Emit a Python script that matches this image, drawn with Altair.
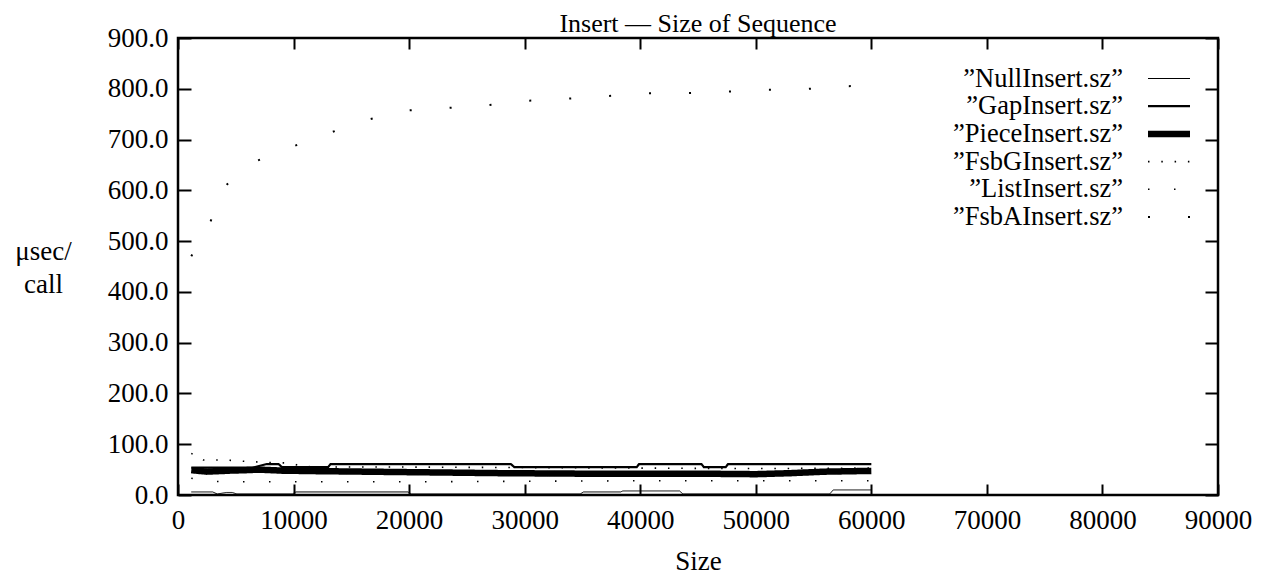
import altair as alt
import pandas as pd

# ---- data ----
series_names = ["”NullInsert.sz”", "”GapInsert.sz”", "”PieceInsert.sz”",
                "”FsbGInsert.sz”", "”ListInsert.sz”", "”FsbAInsert.sz”"]

null_size = [1150, 3000, 3400, 4200, 4700, 5100, 9900, 10200, 19900, 20200, 34800, 35100,
             38300, 38500, 43400, 43700, 56400, 56700, 60000]
null_val = [6, 6, 2, 5, 5, 2, 2, 6, 6, 2, 2, 6, 6, 8, 8, 2, 2, 10, 10]

gap_size = [1150, 6500, 7700, 8700, 9000, 13000, 13200, 28800, 29100, 39700, 39900,
            45300, 45500, 47400, 47600, 60000]
gap_val = [54, 54, 61, 61, 55, 55, 61, 61, 55, 55, 61, 61, 55, 55, 61, 61]

piece_size = [1150, 2500, 4500, 6000, 7000, 9000, 12000, 20000, 28000, 35000, 45000,
              50000, 53000, 56000, 60000]
piece_val = [49, 46, 48, 49, 50, 48, 47, 45, 43, 42, 42, 41, 43, 46, 47.5]

fsbg_size = [1150, 2200, 4000, 6000, 8000, 9500, 11000, 13000, 20000, 30000, 40000, 50000, 60000]
fsbg_val = [82, 69, 69, 66, 64, 63, 56, 55, 55, 54, 53, 52, 53]

list_size = [1150, 2500, 5000, 10000, 20000, 30000, 40000, 50000, 55000, 60000]
list_val = [33, 27, 26, 26, 26, 27, 28, 28, 28, 28]

fsba_size = [1150, 2800, 4150, 6700, 9900, 13100, 16400, 19600, 23100, 26500, 29900,
             33400, 36800, 40300, 43700, 47100, 50600, 54100, 57500, 60000]
fsba_val = [470, 538, 610, 657, 686, 713, 739, 757, 762, 767, 776, 780, 785, 791, 791,
            794, 798, 799, 805, 806]

x_ticks = [0, 10000, 20000, 30000, 40000, 50000, 60000, 70000, 80000, 90000]
y_ticks = [0, 100, 200, 300, 400, 500, 600, 700, 800, 900]

# line styles (gnuplot-like): solid thin / medium / thick, then three dotted patterns
widths = [1, 2.2, 6.5, 1.6, 1.6, 2]
dashes = [[1, 0], [1, 0], [1, 0], [1.5, 11.8], [1.5, 24.5], [2, 38]]

all_sizes = [null_size, gap_size, piece_size, fsbg_size, list_size, fsba_size]
all_vals = [null_val, gap_val, piece_val, fsbg_val, list_val, fsba_val]

W, H = 1040, 457
FONT = "Liberation Serif"

xscale = alt.Scale(domain=[0, 90000], nice=False, zero=False)
yscale = alt.Scale(domain=[0, 900], nice=False, zero=False)

main_x_axis = alt.Axis(orient="bottom", values=x_ticks, format="d", ticks=False, tickSize=0,
                       domain=False, grid=False, labelPadding=12, labelFlush=False,
                       title="Size", titlePadding=15)
main_y_axis = alt.Axis(orient="left", values=y_ticks, format=".1f", ticks=False, tickSize=0,
                       domain=False, grid=False, labelPadding=10, labelFlush=False,
                       title=["μsec/", "call"], titleAngle=0, titleAlign="center",
                       titleBaseline="middle", titleX=-135, titleY=213, titleLineHeight=33)

layers = []
for i, name in enumerate(series_names):
    d = pd.DataFrame({"series": name, "size": all_sizes[i], "value": all_vals[i],
                      "order": list(range(len(all_sizes[i])))})
    layers.append(
        alt.Chart(d).mark_line(color="black", strokeWidth=widths[i], strokeDash=dashes[i],
                               strokeCap="butt", strokeJoin="miter").encode(
            x=alt.X("size:Q", scale=xscale, axis=main_x_axis if i == 0 else None),
            y=alt.Y("value:Q", scale=yscale, axis=main_y_axis if i == 0 else None),
            order="order:Q",
        )
    )

# mirrored, inward ticks on all four sides (gnuplot style)
tickdf = pd.DataFrame({"size": x_ticks, "value": y_ticks})
ticks_a = alt.Chart(tickdf).mark_point(opacity=0).encode(
    x=alt.X("size:Q", scale=xscale,
            axis=alt.Axis(orient="top", offset=-H, values=x_ticks, labels=False, domain=False,
                          grid=False, tickSize=11, tickWidth=2, tickColor="black", title=None)),
    y=alt.Y("value:Q", scale=yscale,
            axis=alt.Axis(orient="right", offset=-W, values=y_ticks, labels=False, domain=False,
                          grid=False, tickSize=13, tickWidth=2, tickColor="black", title=None)),
)
ticks_b = alt.Chart(tickdf).mark_point(opacity=0).encode(
    x=alt.X("size:Q", scale=xscale,
            axis=alt.Axis(orient="bottom", offset=-H, values=x_ticks, labels=False, domain=False,
                          grid=False, tickSize=11, tickWidth=2, tickColor="black", title=None)),
    y=alt.Y("value:Q", scale=yscale,
            axis=alt.Axis(orient="left", offset=-W, values=y_ticks, labels=False, domain=False,
                          grid=False, tickSize=13, tickWidth=2, tickColor="black", title=None)),
)
layers += [ticks_a, ticks_b]

# key (labels left of the line samples, as gnuplot draws it)
leg_df = pd.DataFrame({"series": series_names, "row": list(range(len(series_names)))})
row_y = alt.Y("row:O", scale=alt.Scale(type="point", domain=list(range(len(series_names))),
                                       range=[40.5, 179], padding=0), axis=None)
layers.append(
    alt.Chart(leg_df).mark_text(align="right", baseline="middle", font=FONT, fontSize=26.5,
                                color="black").encode(
        x=alt.value(945), y=row_y, text="series:N")
)
for i, name in enumerate(series_names):
    layers.append(
        alt.Chart(leg_df[leg_df["row"] == i]).mark_rule(
            color="black", strokeWidth=widths[i], strokeDash=dashes[i], strokeCap="butt").encode(
            x=alt.value(970), x2=alt.value(1012), y=row_y)
    )

chart = alt.layer(*layers).resolve_scale(
    y="independent"
).resolve_axis(
    x="independent", y="independent"
).properties(
    width=W, height=H,
    title=alt.TitleParams("Insert — Size of Sequence", font=FONT, fontSize=26,
                          fontWeight="normal", color="black", anchor="middle", offset=8,
                          dy=21.3),
    autosize=alt.AutoSizeParams(type="none"),
    padding={"left": 170, "top": 30, "right": 40, "bottom": 82},
    background="white",
).configure_view(
    stroke="black", strokeWidth=2.5
).configure_axis(
    labelFont=FONT, labelFontSize=27, labelColor="black",
    titleFont=FONT, titleFontSize=27, titleFontWeight="normal", titleColor="black",
)

chart.save("out.html", embed_options={"renderer": "svg", "actions": False})
